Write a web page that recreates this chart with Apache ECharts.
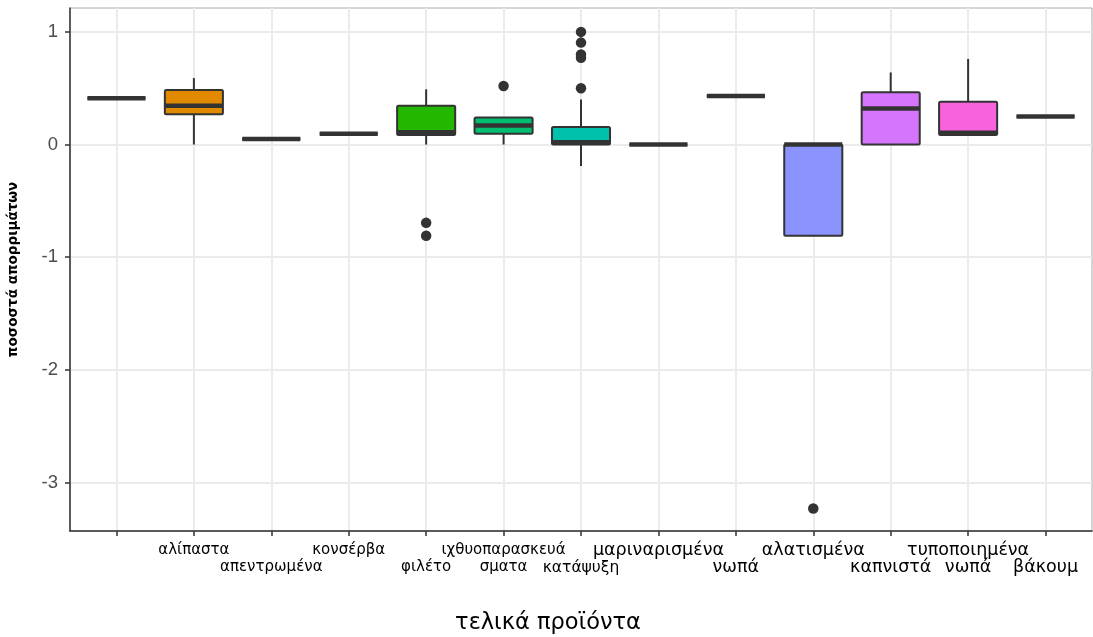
<!DOCTYPE html>
<html><head><meta charset="utf-8">
<script src="https://cdn.jsdelivr.net/npm/echarts@6/dist/echarts.min.js"></script>
<style>html,body{margin:0;padding:0;background:#fff}#c{width:1093px;height:637px}</style>
</head><body><div id="c"></div>
<script>
// ---- data ----
const categories = ['', 'αλίπαστα', 'απεντρωμένα', 'κονσέρβα', 'φιλέτο', 'ιχθυοπαρασκευάσματα', 'κατάψυξη',
  'μαριναρισμένα', 'νωπά', 'αλατισμένα', 'καπνιστά', 'τυποποιημένα νωπά', 'βάκουμ'];
// tick labels are drawn in two staggered rows
const tickLabelsTop    = ['', '{a|αλίπαστα}', '', '{a|κονσέρβα}', '', '{a|ιχθυοπαρασκευά}', '',
  '{b|μαριναρισμένα}', '', '{b|αλατισμένα}', '', '{b|τυποποιημένα}', ''];
const tickLabelsBottom = ['', '', '{a|απεντρωμένα}', '', '{a|φιλέτο}', '{a|σματα}', '{k|κατάψυξη}',
  '', '{b|νωπά}', '', '{b|καπνιστά}', '{b|νωπά}', '{b|βάκουμ}'];
const xTickValues = [0, 1, 2, 3, 4, 5, 6, 7, 8, 9, 10, 11, 12];
const yTickValues = [-3, -2, -1, 0, 1];
const whiskerLow  = [0.41, 0.00, 0.05, 0.095, 0.00, 0.00, -0.19, 0.00, 0.43, -0.81, 0.00, 0.085, 0.25];
const lowerQuart  = [0.41, 0.27, 0.05, 0.095, 0.085, 0.095, 0.00, 0.00, 0.43, -0.81, 0.00, 0.085, 0.25];
const medians     = [0.41, 0.345, 0.05, 0.095, 0.11, 0.17, 0.02, 0.00, 0.43, 0.00, 0.32, 0.105, 0.25];
const upperQuart  = [0.41, 0.485, 0.05, 0.095, 0.345, 0.24, 0.155, 0.00, 0.43, 0.00, 0.465, 0.38, 0.25];
const whiskerHigh = [0.41, 0.59, 0.05, 0.095, 0.49, 0.24, 0.40, 0.00, 0.43, 0.00, 0.64, 0.76, 0.25];
const outlierCategory = [4, 4, 5, 6, 6, 6, 6, 6, 9];
const outlierValues   = [-0.695, -0.81, 0.52, 1.00, 0.905, 0.80, 0.77, 0.50, -3.23];
const boxColors = ['#F8766D', '#E18A00', '#BE9C00', '#8CAB00', '#24B700', '#00BE70', '#00C1AB',
  '#00BBDA', '#00ACFC', '#8B93FF', '#D575FE', '#F962DD', '#FF65AC'];

// ---- build ----
const boxData = categories.map((c, i) => [i, whiskerLow[i], lowerQuart[i], medians[i], upperQuart[i], whiskerHigh[i]]);
const outlierData = outlierCategory.map((c, i) => [c, outlierValues[i]]);
const topTicks = xTickValues.filter(v => tickLabelsTop[v] !== '');
const bottomTicks = xTickValues.filter(v => tickLabelsBottom[v] !== '');
const STROKE = '#333333';

function renderBox(params, api) {
  const i = api.value(0);
  const p = k => api.coord([i, api.value(k)]);
  const lo = p(1), a = p(2), m = p(3), b = p(4), hi = p(5);
  const hw = api.size([0.75, 0])[0] / 2;
  const cx = lo[0];
  return {
    type: 'group',
    children: [
      { type: 'line', shape: { x1: cx, y1: hi[1], x2: cx, y2: b[1] }, style: { stroke: STROKE, lineWidth: 2 } },
      { type: 'line', shape: { x1: cx, y1: a[1], x2: cx, y2: lo[1] }, style: { stroke: STROKE, lineWidth: 2 } },
      { type: 'rect', shape: { x: cx - hw, y: b[1], width: 2 * hw, height: a[1] - b[1], r: 1.5 },
        style: { fill: boxColors[i], stroke: STROKE, lineWidth: 2 } },
      { type: 'line', shape: { x1: cx - hw, y1: m[1], x2: cx + hw, y2: m[1] }, style: { stroke: STROKE, lineWidth: 4.5 } }
    ]
  };
}

const richStyles = {
  a: { fontFamily: 'DejaVu Sans', fontSize: 15, color: '#000', lineHeight: 17 },
  k: { fontFamily: 'DejaVu Sans', fontSize: 15.5, color: '#000', lineHeight: 17 },
  b: { fontFamily: 'DejaVu Sans', fontSize: 17.5, color: '#000', lineHeight: 17 }
};

const chart = echarts.init(document.getElementById('c'), null, { renderer: 'canvas' });
chart.setOption({
  animation: false,
  backgroundColor: '#ffffff',
  grid: { left: 70, right: 1, top: 8, bottom: 106, show: true, borderColor: '#aaaaaa', borderWidth: 1,
    containLabel: false, outerBoundsMode: 'none' },
  xAxis: [{
    type: 'value', min: -0.6, max: 12.6, minInterval: 1, maxInterval: 1, position: 'bottom',
    axisLine: { show: true, onZero: false, lineStyle: { color: STROKE, width: 1.5 } },
    axisTick: { show: true, length: 5, customValues: xTickValues, lineStyle: { color: STROKE, width: 1.5 } },
    axisLabel: {
      customValues: topTicks, margin: 11, lineHeight: 17, color: '#000',
      showMinLabel: true, showMaxLabel: true,
      formatter: v => tickLabelsTop[Math.round(v)], rich: richStyles
    },
    splitLine: { show: true, lineStyle: { color: '#ebebeb', width: 2 } }
  }, {
    type: 'value', min: -0.6, max: 12.6, minInterval: 1, maxInterval: 1, position: 'bottom',
    axisLine: { show: false, onZero: false }, axisTick: { show: false }, splitLine: { show: false },
    axisLabel: {
      customValues: bottomTicks, margin: 28, lineHeight: 17, color: '#000',
      showMinLabel: true, showMaxLabel: true,
      formatter: v => tickLabelsBottom[Math.round(v)], rich: richStyles
    }
  }],
  yAxis: {
    type: 'value', min: -3.43, max: 1.212, minInterval: 0.5, maxInterval: 0.5,
    name: 'ποσοστά απορριμάτων', nameLocation: 'middle', nameGap: 50,
    nameTextStyle: { fontFamily: 'DejaVu Sans', fontSize: 13.5, fontWeight: 'bold', color: '#000' },
    axisLine: { show: true, onZero: false, lineStyle: { color: STROKE, width: 1.5 } },
    axisTick: { show: true, length: 5, customValues: yTickValues, lineStyle: { color: STROKE, width: 1.5 } },
    axisLabel: { customValues: yTickValues, margin: 12, color: '#4d4d4d', fontFamily: 'Liberation Sans', fontSize: 18.5,
      showMinLabel: true, showMaxLabel: true,
      formatter: v => String(Math.round(v)) },
    splitLine: { show: true, lineStyle: { color: '#ebebeb', width: 2 } }
  },
  graphic: [{
    type: 'text', x: 548, y: 623,
    style: { text: 'τελικά προϊόντα', align: 'center', verticalAlign: 'middle',
      fontFamily: 'DejaVu Sans', fontSize: 22.5, fill: '#000' }
  }],
  series: [
    { type: 'custom', renderItem: renderBox, data: boxData, xAxisIndex: 0, encode: { x: 0, y: [1, 2, 3, 4, 5] }, clip: false, z: 2 },
    { type: 'scatter', data: outlierData, xAxisIndex: 0, symbol: 'circle', symbolSize: 10.5, itemStyle: { color: STROKE, opacity: 1 }, z: 3 }
  ]
});
</script></body></html>
